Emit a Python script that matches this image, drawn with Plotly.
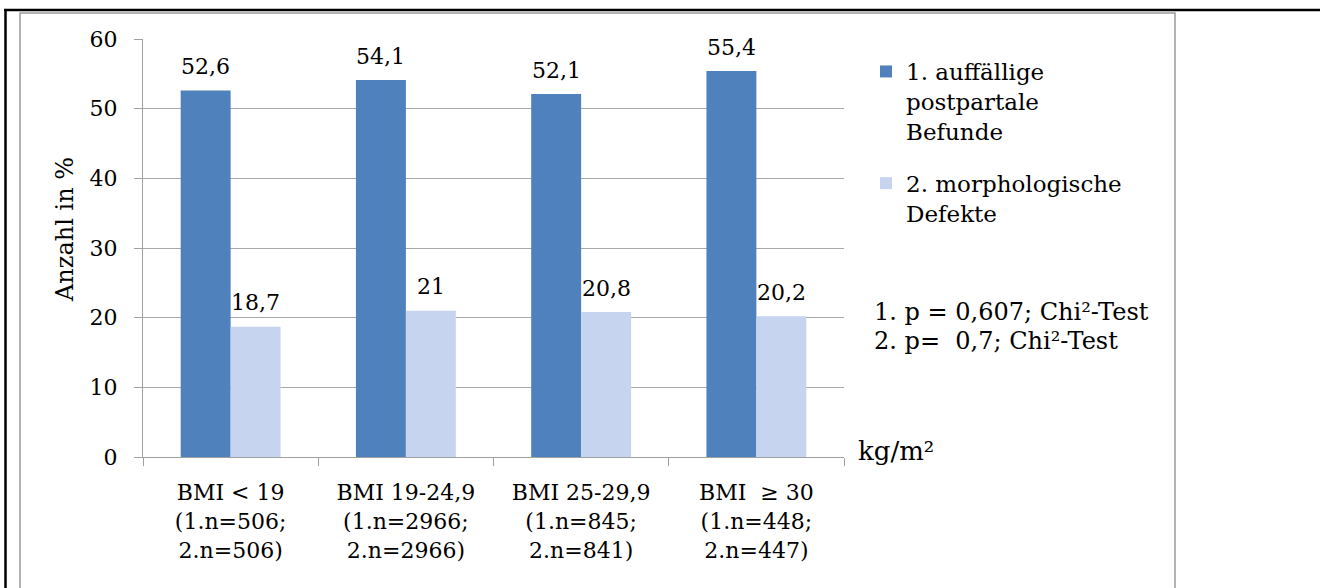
import plotly.graph_objects as go

categories = [
    "BMI < 19<br>(1.n=506;<br>2.n=506)",
    "BMI 19-24,9<br>(1.n=2966;<br>2.n=2966)",
    "BMI 25-29,9<br>(1.n=845;<br>2.n=841)",
    "BMI \u00a0≥ 30<br>(1.n=448;<br>2.n=447)",
]
series1_name = "1. auffällige<br>postpartale<br>Befunde"
series1 = [52.6, 54.1, 52.1, 55.4]
series2_name = "2. morphologische<br>Defekte"
series2 = [18.7, 21.0, 20.8, 20.2]
y_ticks = [0, 10, 20, 30, 40, 50, 60]
stat_lines = ["1. p = 0,607; Chi²-Test", "2. p= \u00a00,7; Chi²-Test"]

FONT = "DejaVu Serif"
W, H = 1320, 588
L, R, T, B = 143, 844, 39, 457  # plot area in pixels
DARK = "#4f81bd"
LIGHT = "#c6d4ef"


def px_x(p):
    return (p - L) / (R - L)


def px_y(p):
    return (B - p) / (B - T)


fig = go.Figure()
fig.add_trace(go.Bar(
    x=categories, y=series1, name=series1_name, legendgroup="a",
    marker=dict(color=DARK, line=dict(width=0)),
))
fig.add_trace(go.Bar(
    x=categories, y=series2, name=series2_name, legendgroup="b",
    marker=dict(color=LIGHT, line=dict(width=0)),
))

shapes = [
    dict(type="rect", xref="paper", yref="paper",
         x0=px_x(20), x1=px_x(1175), y0=px_y(620), y1=px_y(13),
         line=dict(color="#9a9a9a", width=1.5), layer="below"),
    dict(type="line", xref="paper", yref="paper",
         x0=px_x(4), x1=px_x(1330), y0=px_y(10), y1=px_y(10),
         line=dict(color="#000", width=2.5)),
    dict(type="line", xref="paper", yref="paper",
         x0=px_x(5.5), x1=px_x(5.5), y0=px_y(9), y1=px_y(600),
         line=dict(color="#000", width=2.5)),
]

annotations = []
# data labels above bars (from the data, shifted to each bar of the group)
for vals, xs in ((series1, -25), (series2, 25)):
    for c, v in zip(categories, vals):
        annotations.append(dict(
            x=c, y=v, xref="x", yref="y", xshift=xs, yshift=24,
            yanchor="middle", xanchor="center", showarrow=False,
            text=f"{v:g}".replace(".", ","),
            font=dict(family=FONT, size=22, color="#000")))

annotations += [
    dict(xref="paper", yref="paper", x=px_x(65), y=px_y(230),
         textangle=-90, showarrow=False, xanchor="center", yanchor="middle",
         text="Anzahl in %", font=dict(family=FONT, size=24, color="#000")),
    dict(xref="paper", yref="paper", x=px_x(856), y=px_y(451),
         xanchor="left", yanchor="middle", showarrow=False,
         text="kg/m²", font=dict(family=FONT, size=26, color="#000")),
]
for i, line in enumerate(stat_lines):
    annotations.append(dict(
        xref="paper", yref="paper", x=px_x(872), y=px_y(312 + 29 * i),
        xanchor="left", yanchor="middle", showarrow=False, align="left",
        text=line, font=dict(family=FONT, size=24, color="#000")))

fig.update_layout(
    width=W, height=H,
    margin=dict(l=L, r=W - R, t=T, b=H - B, pad=0),
    paper_bgcolor="white", plot_bgcolor="white",
    barmode="group", bargap=0.43, bargroupgap=0,
    separators=",.",
    font=dict(family=FONT, size=22, color="#000"),
    showlegend=True,
    legend=dict(x=px_x(866), y=px_y(50), xanchor="left", yanchor="top",
                font=dict(family=FONT, size=23, color="#000"),
                tracegroupgap=19, valign="top", itemsizing="constant",
                bgcolor="rgba(0,0,0,0)"),
    shapes=shapes,
    annotations=annotations,
    xaxis=dict(
        showline=True, linecolor="#a0a0a0", linewidth=1,
        ticks="outside", ticklen=8, tickcolor="#a0a0a0", tickson="boundaries",
        tickfont=dict(family=FONT, size=22, color="#000"),
        ticklabelstandoff=16,
        showgrid=False,
    ),
    yaxis=dict(
        range=[0, 60], tickvals=y_ticks,
        showline=True, linecolor="#a0a0a0", linewidth=1,
        ticks="outside", ticklen=8, tickcolor="#a0a0a0",
        showgrid=True, gridcolor="#a8a8a8", gridwidth=1,
        zeroline=False, ticklabelstandoff=12,
        tickfont=dict(family=FONT, size=22, color="#000"),
    ),
)

fig.write_html("out.html")
